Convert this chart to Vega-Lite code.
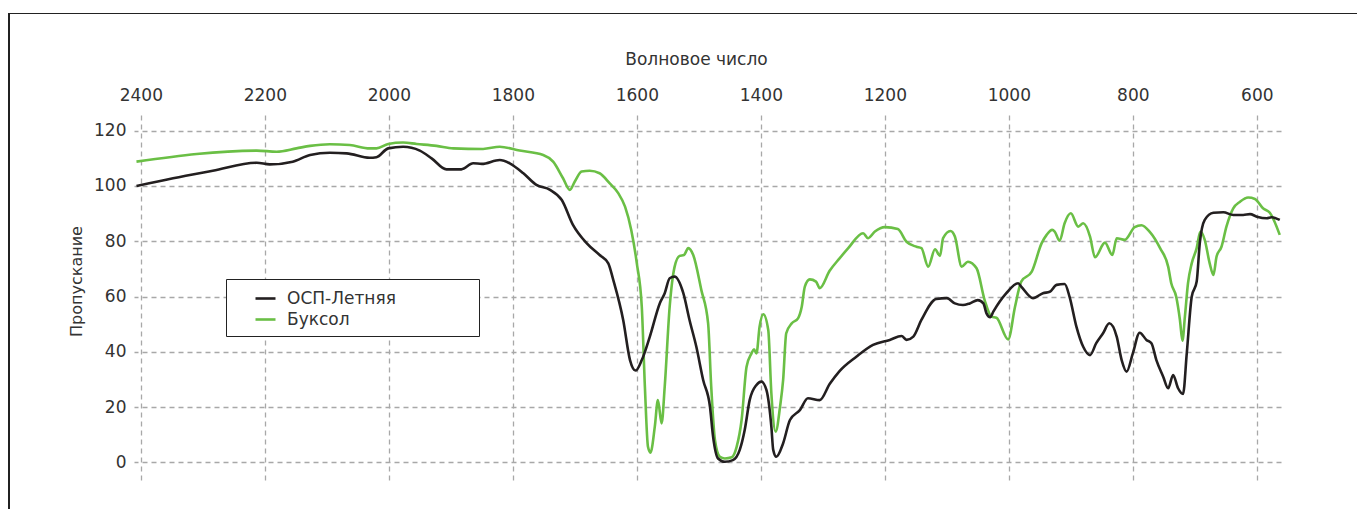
{
  "$schema": "https://vega.github.io/schema/vega-lite/v6.json",
  "width": 1147,
  "height": 367,
  "autosize": {"type": "none"},
  "padding": {"left": 134, "top": 113, "right": 76, "bottom": 29},
  "background": "white",
  "config": {
    "view": {"stroke": null},
    "font": "DejaVu Sans",
    "axis": {
      "grid": true, "gridColor": "#a8a8a8", "gridDash": [5, 4], "gridWidth": 1.3,
      "domain": false, "ticks": false,
      "labelFont": "DejaVu Sans", "labelFontSize": 17, "labelColor": "#333333",
      "titleFont": "DejaVu Sans", "titleFontSize": 17, "titleFontWeight": "normal", "titleColor": "#333333"
    },
    "legend": {
      "labelFont": "DejaVu Sans", "labelFontSize": 17, "labelColor": "#333333"
    }
  },
  "data": {"values": [
    {"s":"Буксол","w":2407,"t":108.8},{"s":"Буксол","w":2213,"t":112.8},{"s":"Буксол","w":2181,"t":112.4},{"s":"Буксол","w":2149,"t":113.6},{"s":"Буксол","w":2127,"t":114.5},{"s":"Буксол","w":2095,"t":115.1},{"s":"Буксол","w":2063,"t":114.8},{"s":"Буксол","w":2031,"t":113.6},{"s":"Буксол","w":2020,"t":113.6},{"s":"Буксол","w":2001,"t":115.2},{"s":"Буксол","w":1977,"t":115.7},{"s":"Буксол","w":1955,"t":115.2},{"s":"Буксол","w":1923,"t":114.5},{"s":"Буксол","w":1896,"t":113.6},{"s":"Буксол","w":1848,"t":113.4},{"s":"Буксол","w":1821,"t":114.2},{"s":"Буксол","w":1789,"t":112.8},{"s":"Буксол","w":1751,"t":111.2},{"s":"Буксол","w":1735,"t":108.8},{"s":"Буксол","w":1719,"t":102.8},{"s":"Буксол","w":1708,"t":98.6},{"s":"Буксол","w":1700,"t":101.6},{"s":"Буксол","w":1689,"t":105.2},{"s":"Буксол","w":1676,"t":105.5},{"s":"Буксол","w":1660,"t":104.6},{"s":"Буксол","w":1644,"t":101.0},{"s":"Буксол","w":1630,"t":97.4},{"s":"Буксол","w":1619,"t":92.5},{"s":"Буксол","w":1609,"t":84.1},{"s":"Буксол","w":1600,"t":72.0},{"s":"Буксол","w":1592,"t":56.3},{"s":"Буксол","w":1587,"t":27.4},{"s":"Буксол","w":1582,"t":5.6},{"s":"Буксол","w":1578,"t":3.5},{"s":"Буксол","w":1571,"t":12.9},{"s":"Буксол","w":1566,"t":22.5},{"s":"Буксол","w":1560,"t":14.1},{"s":"Буксол","w":1555,"t":27.4},{"s":"Буксол","w":1547,"t":56.3},{"s":"Буксол","w":1539,"t":70.8},{"s":"Буксол","w":1531,"t":74.7},{"s":"Буксол","w":1524,"t":75.0},{"s":"Буксол","w":1517,"t":77.5},{"s":"Буксол","w":1509,"t":75.0},{"s":"Буксол","w":1496,"t":62.4},{"s":"Буксол","w":1485,"t":50.3},{"s":"Буксол","w":1480,"t":27.4},{"s":"Буксол","w":1474,"t":8.1},{"s":"Буксол","w":1466,"t":2.0},{"s":"Буксол","w":1458,"t":1.4},{"s":"Буксол","w":1447,"t":1.8},{"s":"Буксол","w":1439,"t":5.6},{"s":"Буксол","w":1431,"t":15.3},{"s":"Буксол","w":1423,"t":34.6},{"s":"Буксол","w":1415,"t":39.4},{"s":"Буксол","w":1411,"t":40.9},{"s":"Буксол","w":1407,"t":39.4},{"s":"Буксол","w":1402,"t":49.1},{"s":"Буксол","w":1396,"t":53.6},{"s":"Буксол","w":1388,"t":47.9},{"s":"Буксол","w":1383,"t":25.0},{"s":"Буксол","w":1376,"t":11.1},{"s":"Буксол","w":1369,"t":20.1},{"s":"Буксол","w":1364,"t":29.8},{"s":"Буксол","w":1359,"t":46.7},{"s":"Буксол","w":1350,"t":50.3},{"s":"Буксол","w":1340,"t":52.1},{"s":"Буксол","w":1334,"t":56.3},{"s":"Буксол","w":1329,"t":63.6},{"s":"Буксол","w":1321,"t":66.2},{"s":"Буксол","w":1311,"t":65.4},{"s":"Буксол","w":1305,"t":63.0},{"s":"Буксол","w":1289,"t":69.3},{"s":"Буксол","w":1273,"t":73.8},{"s":"Буксол","w":1259,"t":77.5},{"s":"Буксол","w":1235,"t":82.9},{"s":"Буксол","w":1227,"t":81.1},{"s":"Буксол","w":1216,"t":83.5},{"s":"Буксол","w":1200,"t":85.1},{"s":"Буксол","w":1179,"t":84.4},{"s":"Буксол","w":1165,"t":79.8},{"s":"Буксол","w":1149,"t":78.0},{"s":"Буксол","w":1141,"t":77.5},{"s":"Буксол","w":1130,"t":70.8},{"s":"Буксол","w":1119,"t":77.1},{"s":"Буксол","w":1111,"t":74.7},{"s":"Буксол","w":1106,"t":81.1},{"s":"Буксол","w":1094,"t":83.7},{"s":"Буксол","w":1087,"t":81.7},{"s":"Буксол","w":1076,"t":70.8},{"s":"Буксол","w":1066,"t":72.6},{"s":"Буксол","w":1052,"t":70.2},{"s":"Буксол","w":1039,"t":58.7},{"s":"Буксол","w":1028,"t":52.7},{"s":"Буксол","w":1020,"t":52.3},{"s":"Буксол","w":1001,"t":44.5},{"s":"Буксол","w":990,"t":56.3},{"s":"Буксол","w":980,"t":65.4},{"s":"Буксол","w":963,"t":69.0},{"s":"Буксол","w":947,"t":79.3},{"s":"Буксол","w":939,"t":82.3},{"s":"Буксол","w":930,"t":84.1},{"s":"Буксол","w":926,"t":83.5},{"s":"Буксол","w":918,"t":80.2},{"s":"Буксол","w":910,"t":86.5},{"s":"Буксол","w":900,"t":90.1},{"s":"Буксол","w":888,"t":85.3},{"s":"Буксол","w":880,"t":86.5},{"s":"Буксол","w":869,"t":81.7},{"s":"Буксол","w":861,"t":74.2},{"s":"Буксол","w":845,"t":79.5},{"s":"Буксол","w":833,"t":75.0},{"s":"Буксол","w":826,"t":81.1},{"s":"Буксол","w":813,"t":80.5},{"s":"Буксол","w":797,"t":85.1},{"s":"Буксол","w":786,"t":85.8},{"s":"Буксол","w":773,"t":83.5},{"s":"Буксол","w":756,"t":77.5},{"s":"Буксол","w":743,"t":70.8},{"s":"Буксол","w":738,"t":64.8},{"s":"Буксол","w":730,"t":59.9},{"s":"Буксол","w":724,"t":51.5},{"s":"Буксол","w":720,"t":44.0},{"s":"Буксол","w":716,"t":52.7},{"s":"Буксол","w":711,"t":64.8},{"s":"Буксол","w":705,"t":72.0},{"s":"Буксол","w":697,"t":77.5},{"s":"Буксол","w":691,"t":83.5},{"s":"Буксол","w":684,"t":80.5},{"s":"Буксол","w":676,"t":72.0},{"s":"Буксол","w":670,"t":67.8},{"s":"Буксол","w":665,"t":74.4},{"s":"Буксол","w":657,"t":78.0},{"s":"Буксол","w":649,"t":85.3},{"s":"Буксол","w":638,"t":91.9},{"s":"Буксол","w":627,"t":94.3},{"s":"Буксол","w":614,"t":95.8},{"s":"Буксол","w":603,"t":95.3},{"s":"Буксол","w":590,"t":91.9},{"s":"Буксол","w":579,"t":90.3},{"s":"Буксол","w":563,"t":82.3},
    {"s":"ОСП-Летняя","w":2407,"t":100.0},{"s":"ОСП-Летняя","w":2348,"t":102.8},{"s":"ОСП-Летняя","w":2284,"t":105.5},{"s":"ОСП-Летняя","w":2213,"t":108.4},{"s":"ОСП-Летняя","w":2192,"t":107.8},{"s":"ОСП-Летняя","w":2155,"t":108.8},{"s":"ОСП-Летняя","w":2127,"t":111.2},{"s":"ОСП-Летняя","w":2095,"t":112.0},{"s":"ОСП-Летняя","w":2068,"t":111.8},{"s":"ОСП-Летняя","w":2031,"t":110.2},{"s":"ОСП-Летняя","w":2020,"t":110.4},{"s":"ОСП-Летняя","w":2001,"t":113.6},{"s":"ОСП-Летняя","w":1977,"t":114.2},{"s":"ОСП-Летняя","w":1950,"t":112.8},{"s":"ОСП-Летняя","w":1931,"t":110.0},{"s":"ОСП-Летняя","w":1907,"t":106.0},{"s":"ОСП-Летняя","w":1883,"t":106.0},{"s":"ОСП-Летняя","w":1864,"t":108.2},{"s":"ОСП-Летняя","w":1850,"t":108.0},{"s":"ОСП-Летняя","w":1821,"t":109.4},{"s":"ОСП-Летняя","w":1805,"t":108.2},{"s":"ОСП-Летняя","w":1783,"t":104.6},{"s":"ОСП-Летняя","w":1762,"t":100.4},{"s":"ОСП-Летняя","w":1740,"t":98.6},{"s":"ОСП-Летняя","w":1721,"t":94.9},{"s":"ОСП-Летняя","w":1703,"t":85.9},{"s":"ОСП-Летняя","w":1681,"t":79.3},{"s":"ОСП-Летняя","w":1660,"t":75.0},{"s":"ОСП-Летняя","w":1646,"t":72.0},{"s":"ОСП-Летняя","w":1638,"t":66.0},{"s":"ОСП-Летняя","w":1622,"t":51.5},{"s":"ОСП-Летняя","w":1611,"t":37.0},{"s":"ОСП-Летняя","w":1602,"t":33.2},{"s":"ОСП-Летняя","w":1592,"t":37.0},{"s":"ОСП-Летняя","w":1579,"t":45.5},{"s":"ОСП-Летняя","w":1563,"t":57.5},{"s":"ОСП-Летняя","w":1555,"t":61.2},{"s":"ОСП-Летняя","w":1547,"t":66.6},{"s":"ОСП-Летняя","w":1539,"t":67.2},{"s":"ОСП-Летняя","w":1525,"t":61.2},{"s":"ОСП-Летняя","w":1515,"t":51.5},{"s":"ОСП-Летняя","w":1504,"t":41.8},{"s":"ОСП-Летняя","w":1493,"t":29.8},{"s":"ОСП-Летняя","w":1482,"t":20.1},{"s":"ОСП-Летняя","w":1477,"t":9.3},{"s":"ОСП-Летняя","w":1469,"t":1.4},{"s":"ОСП-Летняя","w":1458,"t":0.2},{"s":"ОСП-Летняя","w":1445,"t":0.8},{"s":"ОСП-Летняя","w":1434,"t":4.5},{"s":"ОСП-Летняя","w":1426,"t":11.7},{"s":"ОСП-Летняя","w":1418,"t":22.5},{"s":"ОСП-Летняя","w":1407,"t":28.0},{"s":"ОСП-Летняя","w":1399,"t":29.2},{"s":"ОСП-Летняя","w":1391,"t":26.2},{"s":"ОСП-Летняя","w":1383,"t":12.9},{"s":"ОСП-Летняя","w":1380,"t":4.5},{"s":"ОСП-Летняя","w":1375,"t":2.0},{"s":"ОСП-Летняя","w":1364,"t":6.9},{"s":"ОСП-Летняя","w":1353,"t":15.3},{"s":"ОСП-Летняя","w":1337,"t":18.9},{"s":"ОСП-Летняя","w":1324,"t":23.2},{"s":"ОСП-Летняя","w":1305,"t":22.5},{"s":"ОСП-Летняя","w":1289,"t":28.3},{"s":"ОСП-Летняя","w":1273,"t":33.0},{"s":"ОСП-Летняя","w":1246,"t":38.2},{"s":"ОСП-Летняя","w":1219,"t":42.5},{"s":"ОСП-Летняя","w":1192,"t":44.3},{"s":"ОСП-Летняя","w":1173,"t":45.7},{"s":"ОСП-Летняя","w":1165,"t":44.3},{"s":"ОСП-Летняя","w":1154,"t":45.5},{"s":"ОСП-Летняя","w":1141,"t":51.5},{"s":"ОСП-Летняя","w":1117,"t":59.1},{"s":"ОСП-Летняя","w":1100,"t":59.4},{"s":"ОСП-Летняя","w":1087,"t":57.5},{"s":"ОСП-Летняя","w":1074,"t":56.9},{"s":"ОСП-Летняя","w":1063,"t":57.5},{"s":"ОСП-Летняя","w":1050,"t":58.7},{"s":"ОСП-Летняя","w":1041,"t":57.5},{"s":"ОСП-Летняя","w":1036,"t":53.9},{"s":"ОСП-Летняя","w":1030,"t":52.5},{"s":"ОСП-Летняя","w":1025,"t":54.5},{"s":"ОСП-Летняя","w":1004,"t":61.2},{"s":"ОСП-Летняя","w":985,"t":64.8},{"s":"ОСП-Летняя","w":980,"t":63.6},{"s":"ОСП-Летняя","w":961,"t":59.4},{"s":"ОСП-Летняя","w":945,"t":61.2},{"s":"ОСП-Летняя","w":934,"t":61.7},{"s":"ОСП-Летняя","w":923,"t":64.2},{"s":"ОСП-Летняя","w":910,"t":64.5},{"s":"ОСП-Летняя","w":902,"t":59.9},{"s":"ОСП-Летняя","w":891,"t":49.1},{"s":"ОСП-Летняя","w":880,"t":41.8},{"s":"ОСП-Летняя","w":869,"t":38.8},{"s":"ОСП-Летняя","w":859,"t":43.1},{"s":"ОСП-Летняя","w":848,"t":46.7},{"s":"ОСП-Летняя","w":838,"t":50.3},{"s":"ОСП-Летняя","w":826,"t":45.5},{"s":"ОСП-Летняя","w":818,"t":37.0},{"s":"ОСП-Летняя","w":810,"t":32.8},{"s":"ОСП-Летняя","w":800,"t":39.4},{"s":"ОСП-Летняя","w":789,"t":46.9},{"s":"ОСП-Летняя","w":778,"t":44.3},{"s":"ОСП-Летняя","w":770,"t":43.1},{"s":"ОСП-Летняя","w":762,"t":37.0},{"s":"ОСП-Летняя","w":751,"t":31.0},{"s":"ОСП-Летняя","w":743,"t":26.8},{"s":"ОСП-Летняя","w":735,"t":31.6},{"s":"ОСП-Летняя","w":727,"t":26.8},{"s":"ОСП-Летняя","w":719,"t":24.7},{"s":"ОСП-Летняя","w":713,"t":39.4},{"s":"ОСП-Летняя","w":705,"t":59.9},{"s":"ОСП-Летняя","w":697,"t":65.4},{"s":"ОСП-Летняя","w":692,"t":79.3},{"s":"ОСП-Летняя","w":684,"t":87.7},{"s":"ОСП-Летняя","w":670,"t":90.3},{"s":"ОСП-Летняя","w":654,"t":90.5},{"s":"ОСП-Летняя","w":638,"t":89.5},{"s":"ОСП-Летняя","w":622,"t":89.5},{"s":"ОСП-Летняя","w":611,"t":89.8},{"s":"ОСП-Летняя","w":600,"t":88.9},{"s":"ОСП-Летняя","w":584,"t":88.3},{"s":"ОСП-Летняя","w":576,"t":88.7},{"s":"ОСП-Летняя","w":563,"t":87.7}
  ]},
  "layer": [
    {
      "mark": {"type": "rect", "filled": false, "stroke": "#222222", "strokeWidth": 1, "clip": false},
      "encoding": {
        "x": {"datum": 2612, "type": "quantitative"},
        "x2": {"datum": 300},
        "y": {"datum": 162.4, "type": "quantitative"},
        "y2": {"datum": -60}
      }
    },
    {
      "mark": {"type": "line", "strokeWidth": 2.6, "interpolate": "monotone"},
      "encoding": {
        "x": {
          "field": "w", "type": "quantitative",
          "scale": {"domain": [561, 2411], "reverse": true, "nice": false, "zero": false},
          "axis": {"orient": "top", "format": "d", "values": [2400, 2200, 2000, 1800, 1600, 1400, 1200, 1000, 800, 600], "labelPadding": 9, "title": "Волновое число", "titlePadding": 18, "titleX": 562}
        },
        "y": {
          "field": "t", "type": "quantitative",
          "scale": {"domain": [-6.4, 126.4], "nice": false, "zero": false},
          "axis": {"values": [0, 20, 40, 60, 80, 100, 120], "labelPadding": 8, "title": "Пропускание", "titleFontSize": 16, "titlePadding": 9.5, "titleY": 168}
        },
        "color": {
          "field": "s", "type": "nominal",
          "scale": {"domain": ["ОСП-Летняя", "Буксол"], "range": ["#231f20", "#6abf45"]},
          "legend": {
            "title": null, "orient": "none", "legendX": 92, "legendY": 166,
            "strokeColor": "#222222", "fillColor": "white", "padding": 8,
            "symbolType": "stroke", "symbolSize": 400, "symbolStrokeWidth": 2.6,
            "symbolOffset": 20, "labelOffset": 10, "rowPadding": 1, "labelLimit": 400,
            "labelExpr": "datum.label + '\u2800\u2800\u2800\u2800\u2800\u2800'"
          }
        }
      }
    }
  ]
}
